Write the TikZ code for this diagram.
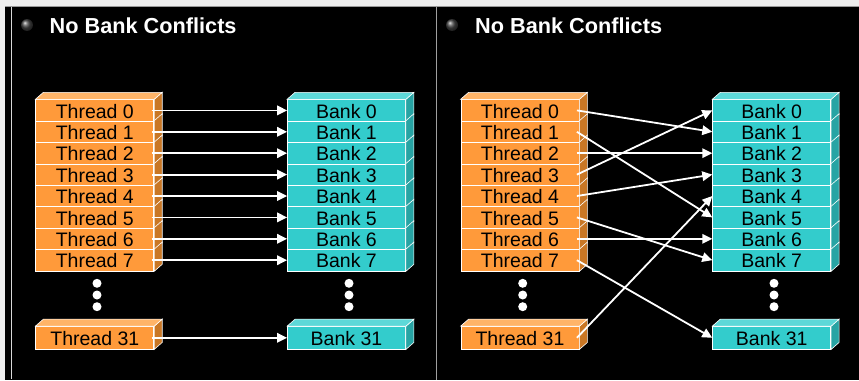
\documentclass[tikz,border=0pt]{standalone}
\usepackage{fontspec}
\setmainfont{Liberation Sans}
\usetikzlibrary{arrows.meta}
\definecolor{thrF}{HTML}{FF9A3A}
\definecolor{thrT}{HTML}{FFB468}
\definecolor{thrS}{HTML}{C97725}
\definecolor{bnkF}{HTML}{33CCCC}
\definecolor{bnkT}{HTML}{5DD8D8}
\definecolor{bnkS}{HTML}{27A4A4}
\definecolor{pagebg}{HTML}{EEEEEE}
\tikzset{
  cell/.style={draw=white, line width=0.8pt, minimum width=118pt, minimum height=21.4pt,
    inner sep=0pt, text height=15.4pt, text depth=0pt, text=black,
    font=\fontsize{19.5}{19.5}\selectfont},
  thr/.style={cell, fill=thrF},
  bnk/.style={cell, fill=bnkF},
  tall/.style={minimum height=22.5pt},
  thrside/.style={fill=thrS, draw=white, line width=0.6pt},
  thrtop/.style={fill=thrT, draw=white, line width=0.6pt},
  bnkside/.style={fill=bnkS, draw=white, line width=0.6pt},
  bnktop/.style={fill=bnkT, draw=white, line width=0.6pt},
  arr/.style={white, line width=1.8pt, -{Triangle[length=10pt,width=9.5pt]}},
  dotmark/.style={fill=white, draw=none},
  title/.style={anchor=base west, text=white, inner sep=0pt,
    font=\fontsize{21.7}{21.7}\selectfont\bfseries},
  bullet/.style={circle, inner sep=0pt, minimum size=12pt, ball color=gray!55!black, draw=none},
}
\newcommand\mkcell[6][]{% [extra] name, style, x, y, text
  \node[#3,#1] (#2) at (#4,#5) {#6};
  \path[#3side] (#2.north east) -- ([shift={(8,-7)}]#2.north east)
     -- ([shift={(8,-7)}]#2.south east) -- (#2.south east) -- cycle;
}
\newcommand\mktop[2]{% name, style
  \path[#2top] (#1.north west) -- ([shift={(8,-7)}]#1.north west)
     -- ([shift={(8,-7)}]#1.north east) -- (#1.north east) -- cycle;
}
\begin{document}
\begin{tikzpicture}[x=1pt,y=-1pt]
\useasboundingbox (0,0) rectangle (859,380);
\fill[pagebg] (0,0) rectangle (859,380);
\fill[black] (5,6) rectangle (859,380);
\draw[gray!80, line width=1.2pt] (5,6.6) -- (859,6.6);
\draw[white!85!black, line width=0.9pt] (11.7,7) -- (11.7,378.5);
\draw[gray!75, line width=1.2pt] (436.8,7) -- (436.8,380);

% titles
\node[bullet] (bl) at (27,25) {};
\node[title] (tl) at (49.5,33.3) {No Bank Conflicts};
\node[bullet] (br) at (452,25) {};
\node[title] (tr) at (475,33.3) {No Bank Conflicts};

% ---------- left panel ----------
\foreach \i in {0,...,7}{
  \pgfmathsetmacro\yy{110.4+21.4*\i}
  \mkcell{lt\i}{thr}{94.8}{\yy}{Thread \i}
  \mkcell{lb\i}{bnk}{346.5}{\yy}{Bank \i}
}
\mktop{lt0}{thr}
\mktop{lb0}{bnk}
\mkcell[tall]{lt31}{thr}{94.8}{337.8}{Thread 31}
\mktop{lt31}{thr}
\mkcell[tall]{lb31}{bnk}{346.5}{337.8}{Bank 31}
\mktop{lb31}{bnk}
\foreach \k in {283.3,295,306.7}{
  \fill[dotmark] (97,\k) circle (4.5);
  \fill[dotmark] (349,\k) circle (4.5);
}
\foreach \i in {0,...,7,31}{
  \draw[arr] ([xshift=-2.5pt]lt\i.east) -- (lb\i.west);
}

% ---------- right panel ----------
\foreach \i in {0,...,7}{
  \pgfmathsetmacro\yy{110.4+21.4*\i}
  \mkcell{rt\i}{thr}{520}{\yy}{Thread \i}
  \mkcell{rb\i}{bnk}{771.7}{\yy}{Bank \i}
}
\mktop{rt0}{thr}
\mktop{rb0}{bnk}
\mkcell[tall]{rt31}{thr}{520}{337.8}{Thread 31}
\mktop{rt31}{thr}
\mkcell[tall]{rb31}{bnk}{771.7}{337.8}{Bank 31}
\mktop{rb31}{bnk}
\foreach \k in {283.3,295,306.7}{
  \fill[dotmark] (522.7,\k) circle (4.5);
  \fill[dotmark] (774,\k) circle (4.5);
}
\foreach \a/\b in {0/1,1/5,2/2,3/0,4/3,5/7,6/6,7/31,31/4}{
  \draw[arr] ([xshift=-2.5pt]rt\a.east) -- (rb\b.west);
}
\end{tikzpicture}
\end{document}
